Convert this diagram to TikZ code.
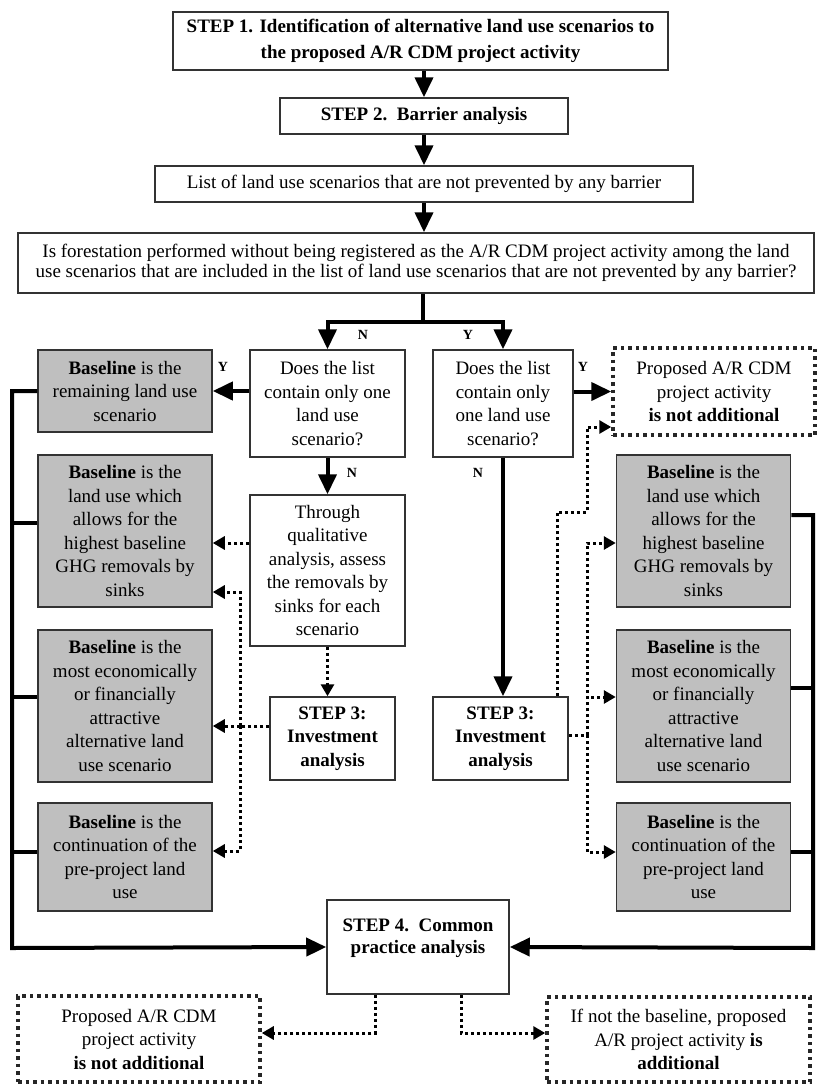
\documentclass[tikz,border=0pt]{standalone}
\usepackage{fontspec}
\setmainfont{Liberation Serif}
\usetikzlibrary{arrows.meta,positioning,calc}
\tikzset{
  >=Stealth,
  every node/.append style={font=\fontsize{19}{23.5}\selectfont},
}
\tikzset{
  box/.style={draw=black!80, line width=1.5pt, align=center, inner sep=2pt},
  gbox/.style={box, fill=black!25, minimum width=174pt},
  dbox/.style={draw=black!85, line width=3.5pt, dash pattern=on 3.5pt off 4pt, align=center, inner sep=2pt},
  arrow/.style={-{Triangle[length=20pt,width=18pt]}, line width=4pt},
  bus/.style={line width=4pt}
}

\begin{document}
\begin{tikzpicture}[
  x=1pt, y=-1pt,
  dotarrow/.style={-{Triangle[length=12pt,width=13pt]}, line width=3pt, dash pattern=on 3pt off 3pt},
  dotline/.style={line width=3pt, dash pattern=on 3pt off 3pt},
  yn/.style={font=\fontsize{14}{14}\selectfont\bfseries, inner sep=0pt},
  stepfont/.style={font=\fontsize{19}{23.5}\selectfont\bfseries}
]
\useasboundingbox (0,0) rectangle (817,1084);

% --- Steps 1 and 2 ---
\node[box, stepfont, font=\fontsize{19}{26}\selectfont\bfseries, minimum width=495pt, minimum height=58pt] (s1) at (420.5,41)
  {STEP 1. Identification of alternative land use scenarios to\\the proposed A/R CDM project activity};
\node[box, stepfont, minimum width=288pt, minimum height=36pt] (s2) at (424,116) {STEP 2.\ \ Barrier analysis};
\node[box, minimum width=538pt, minimum height=36pt] (list) at (424,184)
  {List of land use scenarios that are not prevented by any barrier};
\node[box, font=\fontsize{19}{20}\selectfont, minimum width=796pt, minimum height=60pt] (quest) at (416,263)
  {Is forestation performed without being registered as the A/R CDM project activity among the land\\
   use scenarios that are included in the list of land use scenarios that are not prevented by any barrier?};

\draw[arrow] (s2.north |- s1.south) -- (s2.north);
\draw[arrow] (s2.south) -- (list.north);
\draw[arrow] (list.south) -- (list.south |- quest.north);

% --- Decisions ---
\node[box, minimum width=155pt, minimum height=107pt] (dl) at (327.5,403.5)
  {Does the list\\contain only one\\land use\\scenario?};
\node[box, minimum width=140pt, minimum height=107pt] (dr) at (503,403.5)
  {Does the list\\contain only\\one land use\\scenario?};
\node[box, minimum width=155pt, minimum height=151pt] (thr) at (327.5,570.5)
  {Through\\qualitative\\analysis, assess\\the removals by\\sinks for each\\scenario};
\node[box, stepfont, minimum width=125pt, minimum height=83pt] (s3l) at (332.5,738.5)
  {STEP 3:\\Investment\\analysis};
\node[box, stepfont, minimum width=135pt, minimum height=83pt] (s3r) at (500.5,738.5)
  {STEP 3:\\Investment\\analysis};
\node[dbox, minimum width=202pt, minimum height=87pt] (na1) at (714,391.5)
  {Proposed A/R CDM\\project activity\\\textbf{is not additional}};

\coordinate (fork) at (423,322);
\draw[bus] (quest.south -| fork) -- (fork);
\draw[arrow] (fork) -| (dl.north);
\draw[arrow] (fork) -| (dr.north);
\node[yn] (nq) at (363,335) {N};
\node[yn] (yq) at (468,335) {Y};

% --- Baseline boxes, left ---
\node[gbox, minimum height=82pt] (b1) at (125,391)
  {\textbf{Baseline} is the\\remaining land use\\scenario};
\node[gbox, minimum height=152pt] (b2) at (125,531)
  {\textbf{Baseline} is the\\land use which\\allows for the\\highest baseline\\GHG removals by\\sinks};
\node[gbox, minimum height=152pt] (b3) at (125,706)
  {\textbf{Baseline} is the\\most economically\\or financially\\attractive\\alternative land\\use scenario};
\node[gbox, minimum height=108pt] (b4) at (125,857)
  {\textbf{Baseline} is the\\continuation of the\\pre-project land\\use};

% --- Baseline boxes, right ---
\node[gbox, minimum height=152pt] (r2) at (703.5,531)
  {\textbf{Baseline} is the\\land use which\\allows for the\\highest baseline\\GHG removals by\\sinks};
\node[gbox, minimum height=152pt] (r3) at (703.5,706)
  {\textbf{Baseline} is the\\most economically\\or financially\\attractive\\alternative land\\use scenario};
\node[gbox, minimum height=108pt] (r4) at (703.5,857)
  {\textbf{Baseline} is the\\continuation of the\\pre-project land\\use};

% Decision arrows
\draw[arrow] (dl.west |- b1.east) -- (b1.east);
\node[yn] (yl) at (223,367) {Y};
\draw[arrow] (dl.south) -- (thr.north);
\node[yn] (nl) at (352,473) {N};
\draw[arrow] (dr.east |- na1.west) -- (na1.west);
\node[yn] (yr) at (583,367) {Y};
\draw[arrow] (dr.south) -- (dr.south |- s3r.north);
\node[yn] (nr) at (478,473) {N};

% Dotted paths, left
\coordinate (t2) at ([yshift=-12pt]b2.east);
\coordinate (u2) at ([yshift=-61pt]b2.east);
\coordinate (u4) at ([yshift=6pt]b4.east);
\coordinate (jl) at (240,726);
\draw[dotarrow] (thr.west |- t2) -- (t2);
\draw[dotarrow] (thr.south) -- (thr.south |- s3l.north);
\draw[dotline] (s3l.west |- jl) -- (jl);
\draw[dotarrow] (jl) -- (b3.east |- jl);
\draw[dotarrow] (jl) |- (u2);
\draw[dotarrow] (jl) |- (u4);

% Dotted paths, right
\coordinate (v2) at ([yshift=-12pt]r2.west);
\coordinate (v3) at ([yshift=9pt]r3.west);
\coordinate (v4) at ([yshift=5pt]r4.west);
\coordinate (jr) at (587,735);
\coordinate (kr) at (557,512);
\coordinate (w1) at ([yshift=-35.5pt]na1.west);
\draw[dotline] (s3r.east |- jr) -- (jr);
\draw[dotarrow] (jr) |- (v2);
\draw[dotarrow] (jr) |- (v3);
\draw[dotarrow] (jr) |- (v4);
\draw[dotarrow] (s3r.north -| kr) -- (kr) -- (kr -| jr) |- (w1);

% --- Step 4 and outcomes ---
\node[box, stepfont, font=\fontsize{19}{22}\selectfont\bfseries, minimum width=182pt, minimum height=94pt] (s4) at (418,947)
  {STEP 4.\ \ Common\\practice analysis\\\mbox{}};
\node[dbox, minimum width=242pt, minimum height=86pt] (nal) at (139,1039)
  {Proposed A/R CDM\\project activity\\\textbf{is not additional}};
\node[dbox, minimum width=263pt, minimum height=85pt] (add) at (678.5,1039.5)
  {If not the baseline, proposed\\A/R project activity \textbf{is}\\\textbf{additional}};

% Solid buses to step 4
\coordinate (lb) at (12,948);
\coordinate (rb) at (813,948);
\draw[arrow] (b1.west) -| (lb) -- (s4.west);
\foreach \n/\s in {b2/8,b3/9,b4/5}
  \draw[bus] ([yshift=\s pt]\n.west) -- ++(-26,0);
\draw[arrow] ([yshift=16pt]r2.east) -| (rb) -- (s4.east);
\foreach \n/\s in {r3/18,r4/5}
  \draw[bus] ([yshift=\s pt]\n.east) -- ++(23,0);

% Dotted outcomes
\coordinate (c1) at (375,1033);
\coordinate (c2) at (461,1033);
\draw[dotarrow] (s4.south -| c1) -- (c1) -- (nal.east |- c1);
\draw[dotarrow] (s4.south -| c2) -- (c2) -- (add.west |- c2);

\end{tikzpicture}
\end{document}
